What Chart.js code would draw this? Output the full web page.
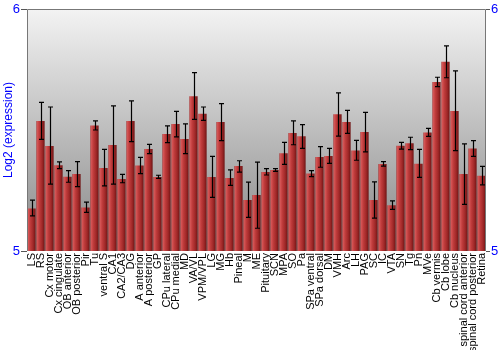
<!DOCTYPE html>
<html>
<head>
<meta charset="utf-8">
<script src="https://cdn.jsdelivr.net/npm/chart.js@4"></script>
<style>
html,body{margin:0;padding:0;background:#fff;}
#wrap{width:500px;height:350px;}
</style>
</head>
<body>
<div id="wrap"><canvas id="c" width="500" height="350"></canvas></div>
<script>
const categories = ["LS","RS","Cx motor","Cx cingulate","OB anterior","OB posterior","Pir","Tu","ventral S","CA1","CA2/CA3","DG","A anterior","A posterior","GP","CPu lateral","CPu medial","MD","VA/VL","VPM/VPL","LG","MG","Hb","Pineal","M","ME","Pituitary","SCN","MPA","SO","Pa","SPa ventral","SPa dorsal","DM","VMH","Arc","LH","PAG","SC","IC","VTA","SN","Tg","Pn","MVe","Cb vermis","Cb lobe","Cb nucleus","spinal cord anterior","spinal cord posterior","Retina"];

const expression = [5.176,5.537,5.434,5.354,5.307,5.318,5.180,5.519,5.343,5.438,5.298,5.537,5.353,5.421,5.306,5.483,5.525,5.463,5.639,5.567,5.306,5.533,5.302,5.351,5.211,5.231,5.326,5.335,5.404,5.488,5.474,5.320,5.388,5.393,5.565,5.533,5.415,5.492,5.211,5.360,5.189,5.435,5.445,5.361,5.490,5.698,5.782,5.579,5.318,5.424,5.311];

const errorHigh = [5.210,5.614,5.595,5.368,5.332,5.369,5.202,5.538,5.420,5.600,5.317,5.620,5.387,5.441,5.313,5.517,5.577,5.525,5.737,5.595,5.391,5.609,5.335,5.373,5.285,5.367,5.340,5.340,5.449,5.538,5.522,5.332,5.431,5.424,5.653,5.581,5.457,5.573,5.286,5.369,5.207,5.449,5.470,5.420,5.507,5.718,5.848,5.744,5.443,5.456,5.350];

const errorLow = [5.145,5.461,5.276,5.340,5.284,5.266,5.160,5.500,5.269,5.276,5.282,5.452,5.320,5.402,5.300,5.448,5.472,5.402,5.544,5.540,5.222,5.456,5.271,5.326,5.139,5.094,5.314,5.329,5.358,5.439,5.424,5.307,5.346,5.362,5.475,5.486,5.375,5.410,5.136,5.351,5.172,5.421,5.419,5.304,5.474,5.679,5.716,5.415,5.193,5.391,5.273];

const yTicks = [5, 6];

const bgPlugin = {
  id: 'bg',
  beforeDatasetsDraw(chart) {
    const {ctx, chartArea: a} = chart;
    const g = ctx.createLinearGradient(0, a.top, 0, a.bottom);
    g.addColorStop(0, '#f3f3f3');
    g.addColorStop(1, '#888888');
    ctx.save();
    ctx.fillStyle = g;
    ctx.fillRect(a.left, a.top, a.right - a.left, a.bottom - a.top);
    ctx.restore();
  },
  afterDatasetsDraw(chart) {
    const {ctx, chartArea: a} = chart;
    const meta = chart.getDatasetMeta(0);
    const ys = chart.scales.y;
    ctx.save();
    ctx.strokeStyle = '#000';
    ctx.lineWidth = 1.2;
    meta.data.forEach((el, i) => {
      const x = Math.round(el.x) + 0.5;
      const t = ys.getPixelForValue(errorHigh[i]);
      const b = ys.getPixelForValue(errorLow[i]);
      ctx.beginPath();
      ctx.moveTo(x, t); ctx.lineTo(x, b);
      ctx.moveTo(x - 2.5, t); ctx.lineTo(x + 2.5, t);
      ctx.moveTo(x - 2.5, b); ctx.lineTo(x + 2.5, b);
      ctx.stroke();
    });
    ctx.strokeStyle = '#777';
    ctx.lineWidth = 1;
    ctx.beginPath();
    ctx.moveTo(Math.round(a.left) + 0.5, Math.round(a.bottom));
    ctx.lineTo(Math.round(a.left) + 0.5, Math.round(a.top) + 0.5);
    ctx.lineTo(Math.round(a.right) - 0.5, Math.round(a.top) + 0.5);
    ctx.lineTo(Math.round(a.right) - 0.5, Math.round(a.bottom));
    ctx.stroke();
    ctx.restore();
  }
};

function barFill(ctx) {
  const chart = ctx.chart;
  const xs = chart.scales.x;
  if (!xs || !chart.chartArea) return '#b03030';
  const c = xs.getPixelForValue(ctx.dataIndex);
  const w = xs.width / categories.length * 0.92;
  const g = chart.ctx.createLinearGradient(c - w / 2, 0, c + w / 2, 0);
  g.addColorStop(0, '#a83030');
  g.addColorStop(0.12, '#d45555');
  g.addColorStop(0.35, '#c03c3c');
  g.addColorStop(0.7, '#a02828');
  g.addColorStop(1, '#6e1414');
  return g;
}

const yTickCfg = {
  stepSize: 1,
  color: '#0000ff',
  font: {family: 'Liberation Sans, Arial, sans-serif', size: 13},
  padding: 1,
  callback: (v) => yTicks.includes(v) ? String(v) : ''
};

new Chart(document.getElementById('c'), {
  type: 'bar',
  data: {
    labels: categories,
    datasets: [{
      data: expression,
      backgroundColor: barFill,
      borderWidth: 0,
      categoryPercentage: 0.92,
      barPercentage: 1.0,
      yAxisID: 'y'
    }]
  },
  plugins: [bgPlugin],
  options: {
    responsive: false,
    animation: false,
    devicePixelRatio: 1,
    layout: {padding: {top: 9, left: 0, right: 0, bottom: 0}},
    plugins: {legend: {display: false}, tooltip: {enabled: false}},
    scales: {
      x: {
        type: 'category',
        grid: {display: false, drawTicks: false},
        border: {display: false},
        ticks: {
          autoSkip: false, maxRotation: 90, minRotation: 90,
          color: '#000',
          font: {family: 'Liberation Sans, Arial, sans-serif', size: 11},
          padding: 2
        },
        afterFit: (s) => { s.height = 99; }
      },
      y: {
        position: 'left',
        min: 5, max: 6,
        ticks: yTickCfg,
        grid: {drawOnChartArea: false, tickLength: 6, color: '#555'},
        border: {display: false},
        title: {display: true, text: 'Log2 (expression)', color: '#0000ff',
          font: {family: 'Liberation Sans, Arial, sans-serif', size: 12}, padding: {top: 1, bottom: 0}},
        afterFit: (s) => { s.width = 27; }
      },
      y2: {
        position: 'right',
        min: 5, max: 6,
        ticks: yTickCfg,
        grid: {drawOnChartArea: false, tickLength: 4, color: '#555'},
        border: {display: false},
        afterFit: (s) => { s.width = 14; }
      }
    }
  }
});
</script>
</body>
</html>
